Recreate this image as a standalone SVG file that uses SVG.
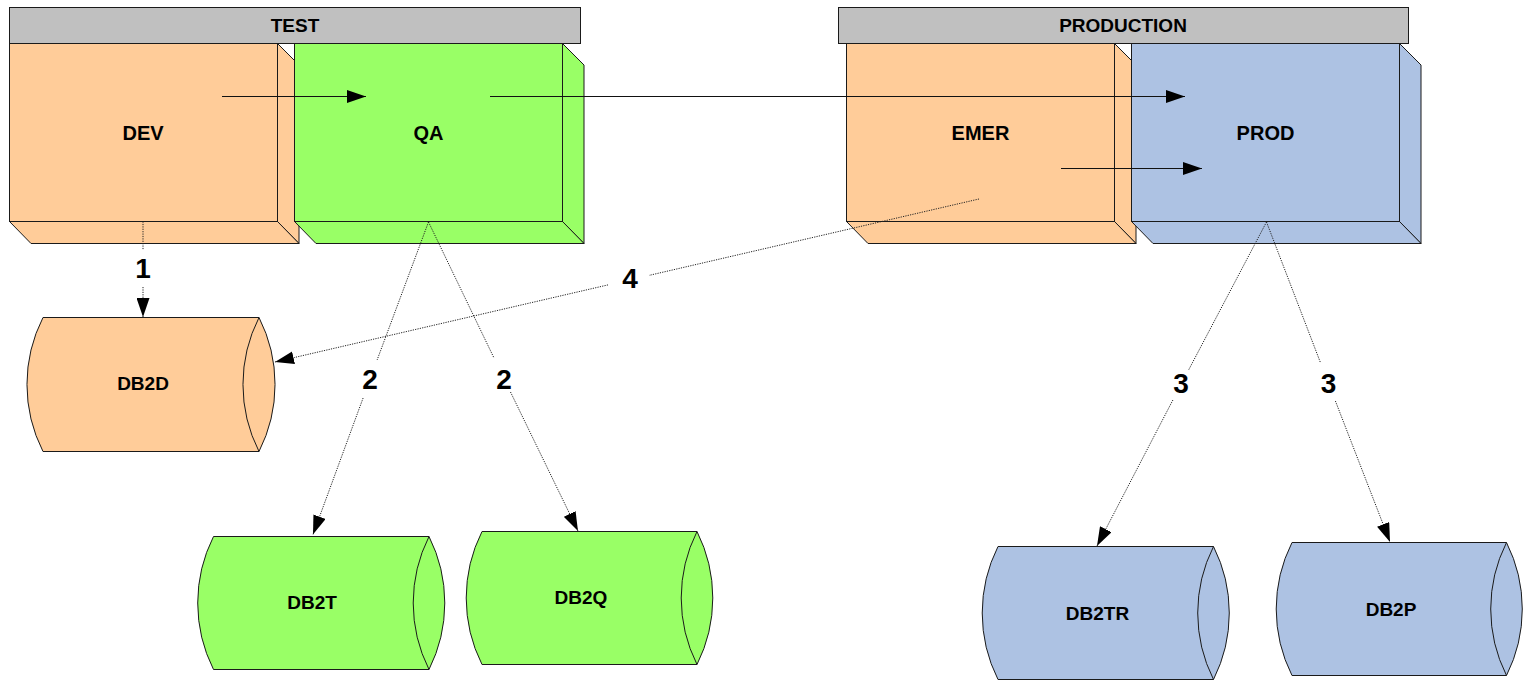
<svg xmlns="http://www.w3.org/2000/svg" width="1523" height="680" viewBox="0 0 1523 680">
<style>
.edge{stroke:#1a1a1a;stroke-width:1;stroke-linejoin:miter}
.peach{fill:#FFCC99}
.green{fill:#99FF66}
.blue{fill:#ADC2E3}
.hdr{fill:#C0C0C0;stroke:#1a1a1a;stroke-width:1}
.t{font-family:"Liberation Sans",Arial,sans-serif;font-weight:bold;fill:#000;text-anchor:middle}
.lbl{font-size:20px}
.hl{font-size:19px}
.db{font-size:19px}
.num{font-size:28px}
.solid{fill:none;stroke:#111;stroke-width:1}
.dot{fill:none;stroke:#222;stroke-width:1;stroke-dasharray:1.2 1.2}
</style>
<defs>
<marker id="ah" markerUnits="userSpaceOnUse" viewBox="0 0 19 13" refX="19" refY="6.5" markerWidth="19" markerHeight="13" orient="auto">
<path d="M0,0 L19,6.5 L0,13 z" fill="#000"/>
</marker>
</defs>

<g id="hdr-test">
<rect class="hdr" x="9.5" y="7.5" width="571" height="36"/>
<text class="t hl" x="295" y="31.5">TEST</text>
</g>
<g id="hdr-production">
<rect class="hdr" x="838.5" y="7.5" width="570" height="36"/>
<text class="t hl" x="1123" y="32">PRODUCTION</text>
</g>

<g id="dev">
<polygon class="peach edge" points="277.5,43.5 299,65 299,243.5 277.5,221.5"/>
<polygon class="peach edge" points="9.5,221.5 277.5,221.5 299,243.5 31,243.5"/>
<rect class="peach edge" x="9.5" y="43.5" width="268" height="178"/>
<text class="t lbl" x="143" y="140">DEV</text>
</g>
<g id="qa">
<polygon class="green edge" points="562.5,43.5 584,65 584,243.5 562.5,221.5"/>
<polygon class="green edge" points="294.5,221.5 562.5,221.5 584,243.5 316,243.5"/>
<rect class="green edge" x="294.5" y="43.5" width="268" height="178"/>
<text class="t lbl" x="428.5" y="140">QA</text>
</g>
<g id="emer">
<polygon class="peach edge" points="1114.5,43.5 1136,65 1136,243.5 1114.5,221.5"/>
<polygon class="peach edge" points="846.5,221.5 1114.5,221.5 1136,243.5 868,243.5"/>
<rect class="peach edge" x="846.5" y="43.5" width="268" height="178"/>
<text class="t lbl" x="980.5" y="140">EMER</text>
</g>
<g id="prod">
<polygon class="blue edge" points="1399.5,43.5 1421,65 1421,243.5 1399.5,221.5"/>
<polygon class="blue edge" points="1131.5,221.5 1399.5,221.5 1421,243.5 1153,243.5"/>
<rect class="blue edge" x="1131.5" y="43.5" width="268" height="178"/>
<text class="t lbl" x="1265.5" y="140">PROD</text>
</g>

<g id="db2d">
<path class="peach edge" d="M43,317.5 L259,317.5 A148,148 0 0 1 259,451.5 L43,451.5 A148,148 0 0 1 43,317.5 Z"/>
<path class="edge" fill="none" d="M259,317.5 A148,148 0 0 0 259,451.5"/>
<text class="t db" x="143" y="390">DB2D</text>
</g>
<g id="db2t">
<path class="green edge" d="M213.5,536.5 L429,536.5 A148,148 0 0 1 429,669.5 L213.5,669.5 A148,148 0 0 1 213.5,536.5 Z"/>
<path class="edge" fill="none" d="M429,536.5 A148,148 0 0 0 429,669.5"/>
<text class="t db" x="312" y="609">DB2T</text>
</g>
<g id="db2q">
<path class="green edge" d="M482,531.5 L697,531.5 A148,148 0 0 1 697,664.5 L482,664.5 A148,148 0 0 1 482,531.5 Z"/>
<path class="edge" fill="none" d="M697,531.5 A148,148 0 0 0 697,664.5"/>
<text class="t db" x="581" y="604">DB2Q</text>
</g>
<g id="db2tr">
<path class="blue edge" d="M998,546.5 L1213.5,546.5 A148,148 0 0 1 1213.5,679.5 L998,679.5 A148,148 0 0 1 998,546.5 Z"/>
<path class="edge" fill="none" d="M1213.5,546.5 A148,148 0 0 0 1213.5,679.5"/>
<text class="t db" x="1097.5" y="620">DB2TR</text>
</g>
<g id="db2p">
<path class="blue edge" d="M1292,542.5 L1506.5,542.5 A148,148 0 0 1 1506.5,675.5 L1292,675.5 A148,148 0 0 1 1292,542.5 Z"/>
<path class="edge" fill="none" d="M1506.5,542.5 A148,148 0 0 0 1506.5,675.5"/>
<text class="t db" x="1391" y="616">DB2P</text>
</g>

<g id="connectors">
<path class="solid" d="M222,96.5 L366,96.5" marker-end="url(#ah)"/>
<path class="solid" d="M490,96.5 L1185,96.5" marker-end="url(#ah)"/>
<path class="solid" d="M1061,168.5 L1202,168.5" marker-end="url(#ah)"/>
<path class="dot" d="M143,221.5 L143,250 M143,287 L143,317" marker-end="url(#ah)"/>
<path class="dot" d="M428.5,222 L377.1,360 M363.1,398 L313,534.5" marker-end="url(#ah)"/>
<path class="dot" d="M428.5,222 L494,358 M510.5,392 L578,531" marker-end="url(#ah)"/>
<path class="dot" d="M1266.5,222 L1188.6,370 M1172.9,400 L1097,546" marker-end="url(#ah)"/>
<path class="dot" d="M1266.5,222 L1320.6,363 M1335.4,401 L1390,542" marker-end="url(#ah)"/>
<path class="dot" d="M979,199 L649,275.4 M608,284.9 L275,362" marker-end="url(#ah)"/>
<text class="t num" x="143" y="278">1</text>
<text class="t num" x="370" y="389">2</text>
<text class="t num" x="504" y="389">2</text>
<text class="t num" x="1181" y="392.5">3</text>
<text class="t num" x="1328.5" y="392.5">3</text>
<text class="t num" x="630" y="288">4</text>
</g>
</svg>
